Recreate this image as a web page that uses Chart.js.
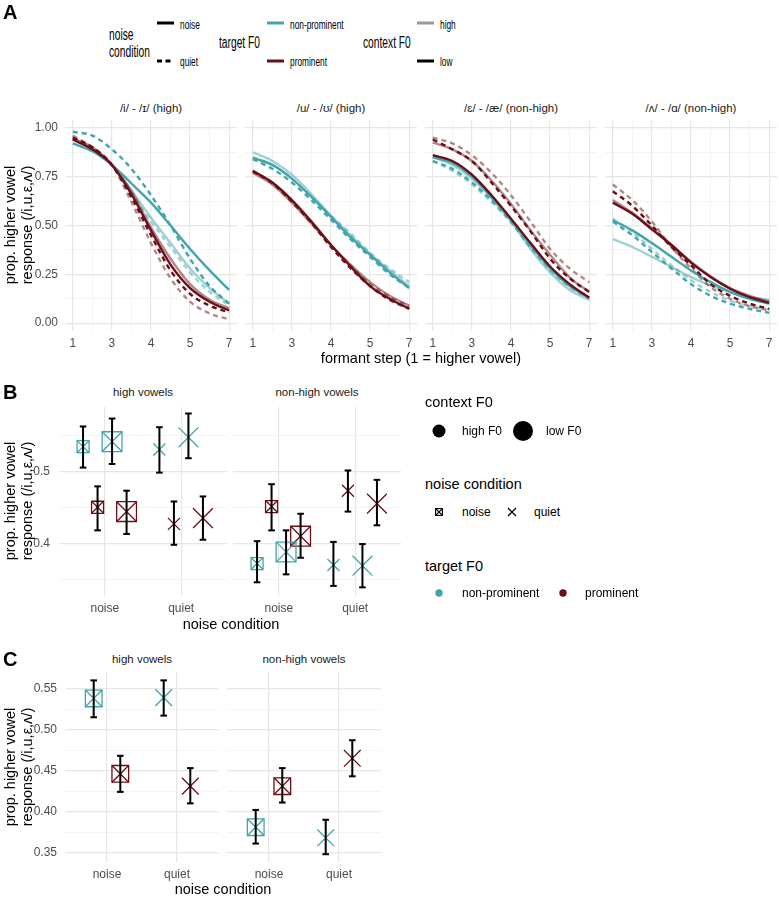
<!DOCTYPE html>
<html>
<head>
<meta charset="utf-8">
<title>higher vowel responses</title>
<script src="https://cdn.jsdelivr.net/npm/chart.js@4.4.1/dist/chart.umd.min.js"></script>
<style>
  body { margin: 0; background: #fff; }
  #fig { position: relative; width: 779px; height: 898px; overflow: hidden;
         font-family: "Liberation Sans", Arial, sans-serif; color: #000; }
  #fig canvas { position: absolute; }
  .t { position: absolute; white-space: nowrap; line-height: 1; }
  svg.k { position: absolute; overflow: visible; }
</style>
</head>
<body>
<div id="fig"></div>
<script>
/********** Data **********/

// panel A: fitted curves, sampled on the continuum axis (major + minor grid positions)
const STEP_POS = [0, 0.5, 1, 1.5, 2, 2.5, 3, 3.5, 4];
const STEP_TICKS = [0, 1, 2, 3, 4];
const STEP_LABELS = ['1', '3', '4', '5', '7'];
const A_Y_TICKS = [0, 0.25, 0.5, 0.75, 1];
const A_Y_GRID = [0, 0.125, 0.25, 0.375, 0.5, 0.625, 0.75, 0.875, 1];
const A_FACETS = ['/i/ - /ɪ/ (high)', '/u/ - /ʊ/ (high)', '/ɛ/ - /æ/ (non-high)', '/ʌ/ - /ɑ/ (non-high)'];

// row order of every facet table: [target F0, context F0, noise condition]
const A_SERIES = [
  ['non-prominent', 'high', 'noise'],
  ['non-prominent', 'high', 'quiet'],
  ['non-prominent', 'low', 'noise'],
  ['non-prominent', 'low', 'quiet'],
  ['prominent', 'high', 'noise'],
  ['prominent', 'high', 'quiet'],
  ['prominent', 'low', 'noise'],
  ['prominent', 'low', 'quiet']
];

const A_I = [
  [0.94, 0.89, 0.81, 0.68, 0.54, 0.41, 0.28, 0.18, 0.10],
  [0.95, 0.90, 0.81, 0.67, 0.52, 0.39, 0.26, 0.16, 0.09],
  [0.92, 0.88, 0.81, 0.715, 0.617, 0.50, 0.38, 0.27, 0.17],
  [0.98, 0.96, 0.89, 0.79, 0.655, 0.50, 0.33, 0.19, 0.10],
  [0.945, 0.90, 0.81, 0.675, 0.49, 0.33, 0.20, 0.12, 0.077],
  [0.96, 0.90, 0.81, 0.62, 0.41, 0.23, 0.11, 0.05, 0.02],
  [0.94, 0.89, 0.81, 0.66, 0.475, 0.30, 0.18, 0.11, 0.065],
  [0.95, 0.90, 0.81, 0.645, 0.45, 0.27, 0.15, 0.09, 0.055]
];
const A_U = [
  [0.875, 0.83, 0.76, 0.66, 0.55, 0.45, 0.355, 0.27, 0.19],
  [0.85, 0.81, 0.74, 0.646, 0.55, 0.46, 0.36, 0.28, 0.21],
  [0.846, 0.81, 0.74, 0.646, 0.544, 0.44, 0.35, 0.26, 0.18],
  [0.84, 0.79, 0.72, 0.63, 0.53, 0.43, 0.34, 0.25, 0.18],
  [0.77, 0.71, 0.617, 0.51, 0.40, 0.30, 0.21, 0.14, 0.09],
  [0.775, 0.715, 0.62, 0.515, 0.395, 0.295, 0.20, 0.135, 0.085],
  [0.78, 0.72, 0.63, 0.52, 0.40, 0.29, 0.19, 0.125, 0.074],
  [0.778, 0.718, 0.624, 0.513, 0.39, 0.282, 0.19, 0.12, 0.074]
];
const A_E = [
  [0.85, 0.81, 0.74, 0.64, 0.52, 0.38, 0.26, 0.17, 0.12],
  [0.83, 0.78, 0.71, 0.62, 0.515, 0.39, 0.27, 0.185, 0.125],
  [0.85, 0.82, 0.75, 0.646, 0.53, 0.40, 0.28, 0.19, 0.13],
  [0.83, 0.79, 0.72, 0.63, 0.52, 0.39, 0.28, 0.19, 0.13],
  [0.925, 0.89, 0.83, 0.73, 0.61, 0.475, 0.35, 0.235, 0.16],
  [0.95, 0.92, 0.86, 0.77, 0.655, 0.52, 0.38, 0.28, 0.21],
  [0.86, 0.83, 0.76, 0.655, 0.535, 0.41, 0.29, 0.20, 0.13],
  [0.94, 0.89, 0.83, 0.72, 0.60, 0.47, 0.33, 0.23, 0.16]
];
const A_V = [
  [0.43, 0.39, 0.34, 0.287, 0.236, 0.193, 0.16, 0.133, 0.12],
  [0.535, 0.467, 0.38, 0.296, 0.22, 0.16, 0.116, 0.087, 0.07],
  [0.527, 0.475, 0.41, 0.34, 0.27, 0.21, 0.16, 0.125, 0.10],
  [0.52, 0.45, 0.364, 0.28, 0.20, 0.14, 0.10, 0.073, 0.053],
  [0.63, 0.565, 0.485, 0.40, 0.315, 0.24, 0.18, 0.14, 0.11],
  [0.71, 0.63, 0.52, 0.39, 0.28, 0.185, 0.125, 0.087, 0.065],
  [0.617, 0.56, 0.48, 0.40, 0.31, 0.236, 0.176, 0.133, 0.104],
  [0.675, 0.60, 0.50, 0.39, 0.296, 0.20, 0.14, 0.10, 0.073]
];

// panels B and C: means with intervals
const NOISE_LEVELS = ['noise', 'quiet'];
const VOWEL_FACETS = ['high vowels', 'non-high vowels'];

// B: dodge order inside each noise level; values are noise first, then quiet
const B_GROUPS = [['non-prominent', 'high'], ['prominent', 'high'], ['non-prominent', 'low'], ['prominent', 'low']];
const B_HIGH_MEAN = [0.534, 0.450, 0.541, 0.444, 0.530, 0.427, 0.547, 0.435];
const B_HIGH_LO   = [0.505, 0.418, 0.510, 0.413, 0.498, 0.398, 0.518, 0.405];
const B_HIGH_HI   = [0.562, 0.479, 0.573, 0.473, 0.561, 0.458, 0.580, 0.465];
const B_NONHIGH_MEAN = [0.372, 0.451, 0.388, 0.410, 0.370, 0.473, 0.369, 0.455];
const B_NONHIGH_LO   = [0.346, 0.418, 0.357, 0.380, 0.341, 0.444, 0.339, 0.425];
const B_NONHIGH_HI   = [0.403, 0.482, 0.418, 0.441, 0.402, 0.501, 0.399, 0.488];
const B_Y_TICKS = [0.4, 0.5];
const B_Y_GRID = [0.35, 0.4, 0.45, 0.5, 0.55];

// C: target F0 only
const C_GROUPS = [['non-prominent', 'mid'], ['prominent', 'mid']];
const C_HIGH_MEAN = [0.538, 0.446, 0.539, 0.431];
const C_HIGH_LO   = [0.515, 0.424, 0.517, 0.410];
const C_HIGH_HI   = [0.560, 0.468, 0.560, 0.453];
const C_NONHIGH_MEAN = [0.381, 0.431, 0.368, 0.465];
const C_NONHIGH_LO   = [0.361, 0.411, 0.348, 0.443];
const C_NONHIGH_HI   = [0.402, 0.453, 0.390, 0.487];
const C_Y_TICKS = [0.35, 0.4, 0.45, 0.5, 0.55];
const C_Y_GRID = [0.35, 0.375, 0.4, 0.425, 0.45, 0.475, 0.5, 0.525, 0.55];

/********** Styles **********/
const TEAL = '#42a5ac';
const TEAL_LIGHT = 'rgba(66,165,172,0.5)';
const RED = '#6b0f17';
const RED_LIGHT = 'rgba(107,15,23,0.5)';
const GRID_MAJOR = '#e6e6e6';
const GRID_MINOR = '#efefef';
const TICK_COLOR = '#4d4d4d';

Chart.defaults.font.family = '"Liberation Sans", Arial, sans-serif';

const fig = document.getElementById('fig');

function near(list, v) {
  return list.some(t => Math.abs(t - v) < 1e-9);
}

// one facet = one chart; plot area placed at (left, top) with size w x h
function facet(cfg) {
  const cv = document.createElement('canvas');
  cv.width = cfg.yw + cfg.w;
  cv.height = cfg.h + cfg.xh;
  cv.style.left = (cfg.left - cfg.yw) + 'px';
  cv.style.top = cfg.top + 'px';
  fig.appendChild(cv);

  return new Chart(cv, {
    type: 'line',
    data: { datasets: cfg.datasets },
    options: {
      responsive: false,
      animation: false,
      events: [],
      layout: { padding: 0, autoPadding: false },
      plugins: { legend: { display: false }, tooltip: { enabled: false } },
      scales: {
        x: {
          type: 'linear',
          min: cfg.xmin,
          max: cfg.xmax,
          afterBuildTicks: s => { s.ticks = cfg.xgrid.map(v => ({ value: v })); },
          afterFit: s => { s.height = cfg.xh; s.paddingLeft = 0; s.paddingRight = 0; },
          ticks: {
            autoSkip: false, maxRotation: 0, padding: cfg.xpad,
            color: TICK_COLOR, font: { size: 12 },
            callback: v => cfg.xlabel(v)
          },
          grid: {
            drawTicks: false,
            color: ctx => near(cfg.xticks, ctx.tick.value) ? GRID_MAJOR : GRID_MINOR,
            lineWidth: ctx => near(cfg.xticks, ctx.tick.value) ? 1.2 : 0.7
          },
          border: { display: false }
        },
        y: {
          type: 'linear',
          min: cfg.ymin,
          max: cfg.ymax,
          afterBuildTicks: s => { s.ticks = cfg.ygrid.map(v => ({ value: v })); },
          afterFit: s => { s.width = cfg.yw; s.paddingTop = 0; s.paddingBottom = 0; },
          ticks: {
            display: cfg.yw > 0, autoSkip: false, padding: cfg.ypad,
            color: TICK_COLOR, font: { size: 12 },
            callback: v => near(cfg.yticks, v) ? v.toFixed(cfg.ydec) : ''
          },
          grid: {
            drawTicks: false,
            color: ctx => near(cfg.yticks, ctx.tick.value) ? GRID_MAJOR : GRID_MINOR,
            lineWidth: ctx => near(cfg.yticks, ctx.tick.value) ? 1.2 : 0.7
          },
          border: { display: false }
        }
      }
    }
  });
}

function text(str, x, y, o = {}) {
  const d = document.createElement('div');
  d.className = 't';
  d.innerHTML = str;
  d.style.fontSize = (o.size || 12) + 'px';
  d.style.color = o.color || '#000';
  if (o.lh) d.style.lineHeight = o.lh + 'px';
  if (o.bold) d.style.fontWeight = 'bold';
  d.style.left = x + 'px';
  d.style.top = y + 'px';
  let tf = o.center ? 'translate(-50%,-50%)' : 'translate(0,-50%)';
  if (o.rot) tf += ' rotate(-90deg)';
  if (o.sx) tf += ' scaleX(' + o.sx + ')';
  d.style.transform = tf;
  d.style.transformOrigin = o.center ? 'center center' : 'left center';
  if (o.center) d.style.textAlign = 'center';
  fig.appendChild(d);
}

function svg(x, y, w, h, inner) {
  const s = document.createElementNS('http://www.w3.org/2000/svg', 'svg');
  s.setAttribute('class', 'k');
  s.setAttribute('width', w);
  s.setAttribute('height', h);
  s.style.left = x + 'px';
  s.style.top = y + 'px';
  s.innerHTML = inner;
  fig.appendChild(s);
}

/********** Panel A **********/
function curveDatasets(table) {
  return table.map((vals, i) => {
    const [target, context, noise] = A_SERIES[i];
    const dark = target === 'prominent' ? RED : TEAL;
    const light = target === 'prominent' ? RED_LIGHT : TEAL_LIGHT;
    return {
      data: STEP_POS.map((x, j) => ({ x, y: vals[j] })),
      borderColor: context === 'low' ? dark : light,
      borderWidth: 2.4,
      borderDash: noise === 'quiet' ? [5, 4] : [],
      pointRadius: 0,
      cubicInterpolationMode: 'monotone',
      order: (context === 'low' ? 0 : 2) + (target === 'prominent' ? 0 : 1)
    };
  });
}

const A_TABLES = [A_I, A_U, A_E, A_V];
const A_LEFT = [65, 245, 425, 605];
A_TABLES.forEach((tbl, k) => {
  facet({
    left: A_LEFT[k], top: 120, w: 172, h: 211,
    yw: k === 0 ? 40 : 0, xh: 22, xpad: 5, ypad: 7,
    xmin: -0.2, xmax: 4.2, xgrid: STEP_POS, xticks: STEP_TICKS,
    xlabel: v => near(STEP_TICKS, v) ? STEP_LABELS[Math.round(v)] : '',
    ymin: -0.04, ymax: 1.04, ygrid: A_Y_GRID, yticks: A_Y_TICKS, ydec: 2,
    datasets: curveDatasets(tbl)
  });
  text(A_FACETS[k], A_LEFT[k] + 86, 109, { size: 11.5, color: '#1a1a1a', center: true });
});

/********** Panels B and C **********/
function pointDatasets(mean, lo, hi, groups, dodge, radius) {
  const ds = [];
  const bars = [];
  NOISE_LEVELS.forEach((lvl, li) => groups.forEach((g, gi) => {
    const k = li * groups.length + gi;
    const x = li + 1 + dodge[gi];
    bars.push({ x, y: lo[k] }, { x, y: hi[k] }, { x, y: null });
  }));
  ds.push({
    data: bars, borderColor: '#000', borderWidth: 2, spanGaps: false,
    pointStyle: 'line', pointRadius: 3.3, pointBorderWidth: 2, pointBorderColor: '#000',
    order: 0
  });
  groups.forEach((g, gi) => {
    const col = g[0] === 'prominent' ? RED : TEAL;
    const r = radius(g[1]);
    const pts = NOISE_LEVELS.map((lvl, li) => ({ x: li + 1 + dodge[gi], y: mean[li * groups.length + gi] }));
    ds.push({
      data: pts, showLine: false, pointStyle: 'crossRot', pointRadius: r,
      pointBorderColor: col, pointBorderWidth: 1.3, order: 1
    });
    // noise condition: square around the cross
    ds.push({
      data: [pts[0]], showLine: false, pointStyle: 'rect', pointRadius: r,
      pointBorderColor: col, pointBackgroundColor: 'rgba(0,0,0,0)', pointBorderWidth: 1.3, order: 1
    });
  });
  return ds;
}

const levelLabel = v => near([1, 2], v) ? NOISE_LEVELS[Math.round(v) - 1] : '';

const B_DODGE = [-0.285, -0.095, 0.095, 0.285];
const B_LEFT = [59, 233];
const B_DATA = [[B_HIGH_MEAN, B_HIGH_LO, B_HIGH_HI], [B_NONHIGH_MEAN, B_NONHIGH_LO, B_NONHIGH_HI]];
B_DATA.forEach((d, k) => {
  facet({
    left: B_LEFT[k], top: 407, w: 168, h: 189,
    yw: k === 0 ? 40 : 0, xh: 22, xpad: 5, ypad: 9,
    xmin: 0.4, xmax: 2.6, xgrid: [1, 2], xticks: [1, 2], xlabel: levelLabel,
    ymin: 0.327, ymax: 0.589, ygrid: B_Y_GRID, yticks: B_Y_TICKS, ydec: 1,
    datasets: pointDatasets(d[0], d[1], d[2], B_GROUPS, B_DODGE, c => c === 'high' ? 8.5 : 14)
  });
  text(VOWEL_FACETS[k], B_LEFT[k] + 84, 393, { size: 11.5, color: '#1a1a1a', center: true });
});

const C_DODGE = [-0.19, 0.19];
const C_LEFT = [65, 227];
const C_DATA = [[C_HIGH_MEAN, C_HIGH_LO, C_HIGH_HI], [C_NONHIGH_MEAN, C_NONHIGH_LO, C_NONHIGH_HI]];
C_DATA.forEach((d, k) => {
  facet({
    left: C_LEFT[k], top: 672, w: 154, h: 190,
    yw: k === 0 ? 46 : 0, xh: 22, xpad: 5, ypad: 8,
    xmin: 0.4, xmax: 2.6, xgrid: [1, 2], xticks: [1, 2], xlabel: levelLabel,
    ymin: 0.3385, ymax: 0.5702, ygrid: C_Y_GRID, yticks: C_Y_TICKS, ydec: 2,
    datasets: pointDatasets(d[0], d[1], d[2], C_GROUPS, C_DODGE, () => 11.8)
  });
  text(VOWEL_FACETS[k], C_LEFT[k] + 77, 660, { size: 11.5, color: '#1a1a1a', center: true });
});

/********** Titles, axis labels **********/
const YTITLE = 'prop. higher vowel<br>response (/i,u,ε,ʌ/)';
text(YTITLE, 19, 225, { size: 14.5, lh: 17, center: true, rot: true });
text(YTITLE, 19, 501, { size: 14.5, lh: 17, center: true, rot: true });
text(YTITLE, 19, 767, { size: 14.5, lh: 17, center: true, rot: true });

text('formant step (1 = higher vowel)', 421, 358, { size: 14.5, center: true });
text('noise condition', 231, 624, { size: 14.5, center: true });
text('noise condition', 223, 889, { size: 14.5, center: true });

text('A', 3, 12, { size: 20, bold: true });
text('B', 3, 392, { size: 20, bold: true });
text('C', 3, 659, { size: 20, bold: true });

/********** Panel A legend (narrow) **********/
const SX = 0.64;
text('noise<br>condition', 109, 43, { size: 16, lh: 17, sx: SX });
text('noise', 180, 24, { size: 13, sx: SX });
text('quiet', 180, 61, { size: 13, sx: SX });
text('target F0', 219, 43, { size: 16, sx: SX });
text('non-prominent', 290, 24, { size: 13, sx: SX });
text('prominent', 290, 61, { size: 13, sx: SX });
text('context F0', 363, 43, { size: 16, sx: SX });
text('high', 440, 24, { size: 13, sx: SX });
text('low', 440, 61, { size: 13, sx: SX });

const keyLine = (x, y, col, dash) =>
  svg(x, y - 3, 17, 6, `<line x1="0" y1="3" x2="17" y2="3" stroke="${col}" stroke-width="3"${dash ? ' stroke-dasharray="5 3.5"' : ''}/>`);
keyLine(157, 23, '#000', false);
keyLine(157, 61, '#000', true);
keyLine(267, 23, TEAL, false);
keyLine(267, 61, RED, false);
keyLine(417, 23, 'rgba(0,0,0,0.4)', false);
keyLine(417, 61, '#000', false);

/********** Panel B legend **********/
text('context F0', 425, 402, { size: 14.5 });
svg(432, 424, 14, 14, '<circle cx="7" cy="7" r="6.5" fill="#000"/>');
text('high F0', 462, 431, { size: 12 });
svg(513, 421, 20, 20, '<circle cx="10" cy="10" r="10" fill="#000"/>');
text('low F0', 546, 431, { size: 12 });

text('noise condition', 425, 484, { size: 14.5 });
svg(435, 508, 8, 8, '<rect x="0.6" y="0.6" width="6.8" height="6.8" fill="none" stroke="#000" stroke-width="1.2"/><path d="M0.6 0.6L7.4 7.4M7.4 0.6L0.6 7.4" stroke="#000" stroke-width="1.2"/>');
text('noise', 462, 512, { size: 12 });
svg(508, 508, 8, 8, '<path d="M0 0L8 8M8 0L0 8" stroke="#000" stroke-width="1.3"/>');
text('quiet', 534, 512, { size: 12 });

text('target F0', 425, 566, { size: 14.5 });
svg(435, 589, 8, 8, `<circle cx="4" cy="4" r="3.7" fill="${TEAL}"/>`);
text('non-prominent', 462, 593, { size: 12 });
svg(559, 589, 8, 8, `<circle cx="4" cy="4" r="3.7" fill="${RED}"/>`);
text('prominent', 585, 593, { size: 12 });
</script>
</body>
</html>
